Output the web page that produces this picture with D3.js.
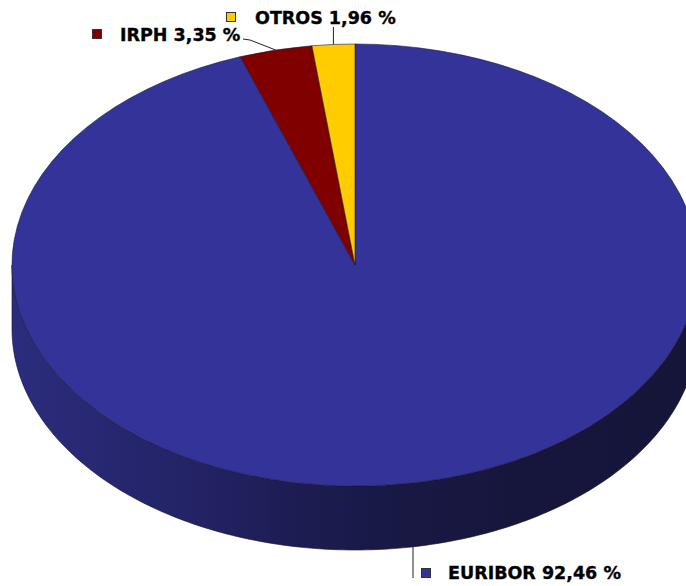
<!DOCTYPE html>
<html>
<head>
<meta charset="utf-8">
<script src="https://cdn.jsdelivr.net/npm/d3@7/dist/d3.min.js"></script>
<style>
  html, body { margin: 0; padding: 0; background: #ffffff; }
  svg { display: block; }
  text { font-family: "DejaVu Sans", Verdana, sans-serif; font-weight: bold; }
</style>
</head>
<body>
<svg id="chart" width="686" height="586"></svg>
<script>
// Mortgage reference-rate shares (%)
const categories = ["EURIBOR", "IRPH", "OTROS"];
const values = [92.46, 3.35, 1.96];
const valueLabels = ["92,46 %", "3,35 %", "1,96 %"];
const colors = ["#333399", "#800000", "#FFCC00"];

const W = 686, H = 586;
const cx = 355, cy = 265, rx = 343, ry = 221, depth = 64;
const k = ry / rx;

const svg = d3.select("#chart");

// side shading of the pie body
const defs = svg.append("defs");
const grad = defs.append("linearGradient")
  .attr("id", "sideGrad").attr("gradientUnits", "userSpaceOnUse")
  .attr("x1", cx - rx).attr("x2", cx + rx).attr("y1", 0).attr("y2", 0);
[[0, "#2c2c7e"], [0.28, "#222264"], [0.43, "#1c1c51"], [0.57, "#181844"], [0.75, "#16163c"], [1, "#15153a"]]
  .forEach(([o, c]) => grad.append("stop").attr("offset", o).attr("stop-color", c));

const pie = d3.pie().sort(null).value(d => d)(values);

// projection of an angle (clockwise from 12 o'clock) onto the tilted disc
const proj = (a, dy = 0) => [cx + rx * Math.sin(a), cy - ry * Math.cos(a) + dy];

// front wall: lower half of the ellipse extruded downward
const front = d3.range(Math.PI / 2, 3 * Math.PI / 2 + 1e-9, Math.PI / 180);
const wall = front.map(a => proj(a)).concat(front.slice().reverse().map(a => proj(a, depth)));
svg.append("path")
  .attr("d", d3.line()(wall) + "Z")
  .attr("fill", "url(#sideGrad)")
  .attr("stroke", "#10102a").attr("stroke-width", 0.6);

// top face slices
const arc = d3.arc().innerRadius(0).outerRadius(rx);
svg.append("g")
  .attr("transform", `translate(${cx},${cy}) scale(1,${k})`)
  .selectAll("path")
  .data(pie)
  .join("path")
  .attr("d", arc)
  .attr("fill", (d, i) => colors[i])
  .attr("stroke", "#1a1a40")
  .attr("stroke-width", 0.6)
  .attr("vector-effect", "non-scaling-stroke");

// labels with legend keys and leader lines
const mid = d => (d.startAngle + d.endAngle) / 2;
const fs = 17.5;
const layout = [
  { // EURIBOR, anchored on the bottom rim of the wall
    anchor: (() => { const x = 413; return [x, cy + depth + ry * Math.sqrt(1 - ((x - cx) / rx) ** 2)]; })(),
    pts: a => [a, [a[0], 578]],
    key: [421, 568], text: [448, 579]
  },
  {
    anchor: proj(mid(pie[1])),
    pts: a => [[243, 39], [250, 40], a],
    key: [92, 29], text: [120, 40.5]
  },
  {
    anchor: proj(mid(pie[2])),
    pts: a => [[a[0], 27], a],
    key: [226, 12], text: [255, 24]
  }
];

const lbl = svg.append("g");
layout.forEach((L, i) => {
  lbl.append("path")
    .attr("d", d3.line()(L.pts(L.anchor)))
    .attr("fill", "none").attr("stroke", "#222").attr("stroke-width", 1);
  lbl.append("rect")
    .attr("x", L.key[0] + 0.5).attr("y", L.key[1] + 0.5)
    .attr("width", 9).attr("height", 9)
    .attr("fill", colors[i]).attr("stroke", "#333").attr("stroke-width", 1);
  lbl.append("text")
    .attr("x", L.text[0]).attr("y", L.text[1])
    .attr("font-size", fs).attr("fill", "#000")
    .attr("stroke", "#000").attr("stroke-width", 0.35)
    .text(`${categories[i]} ${valueLabels[i]}`);
});
</script>
</body>
</html>
